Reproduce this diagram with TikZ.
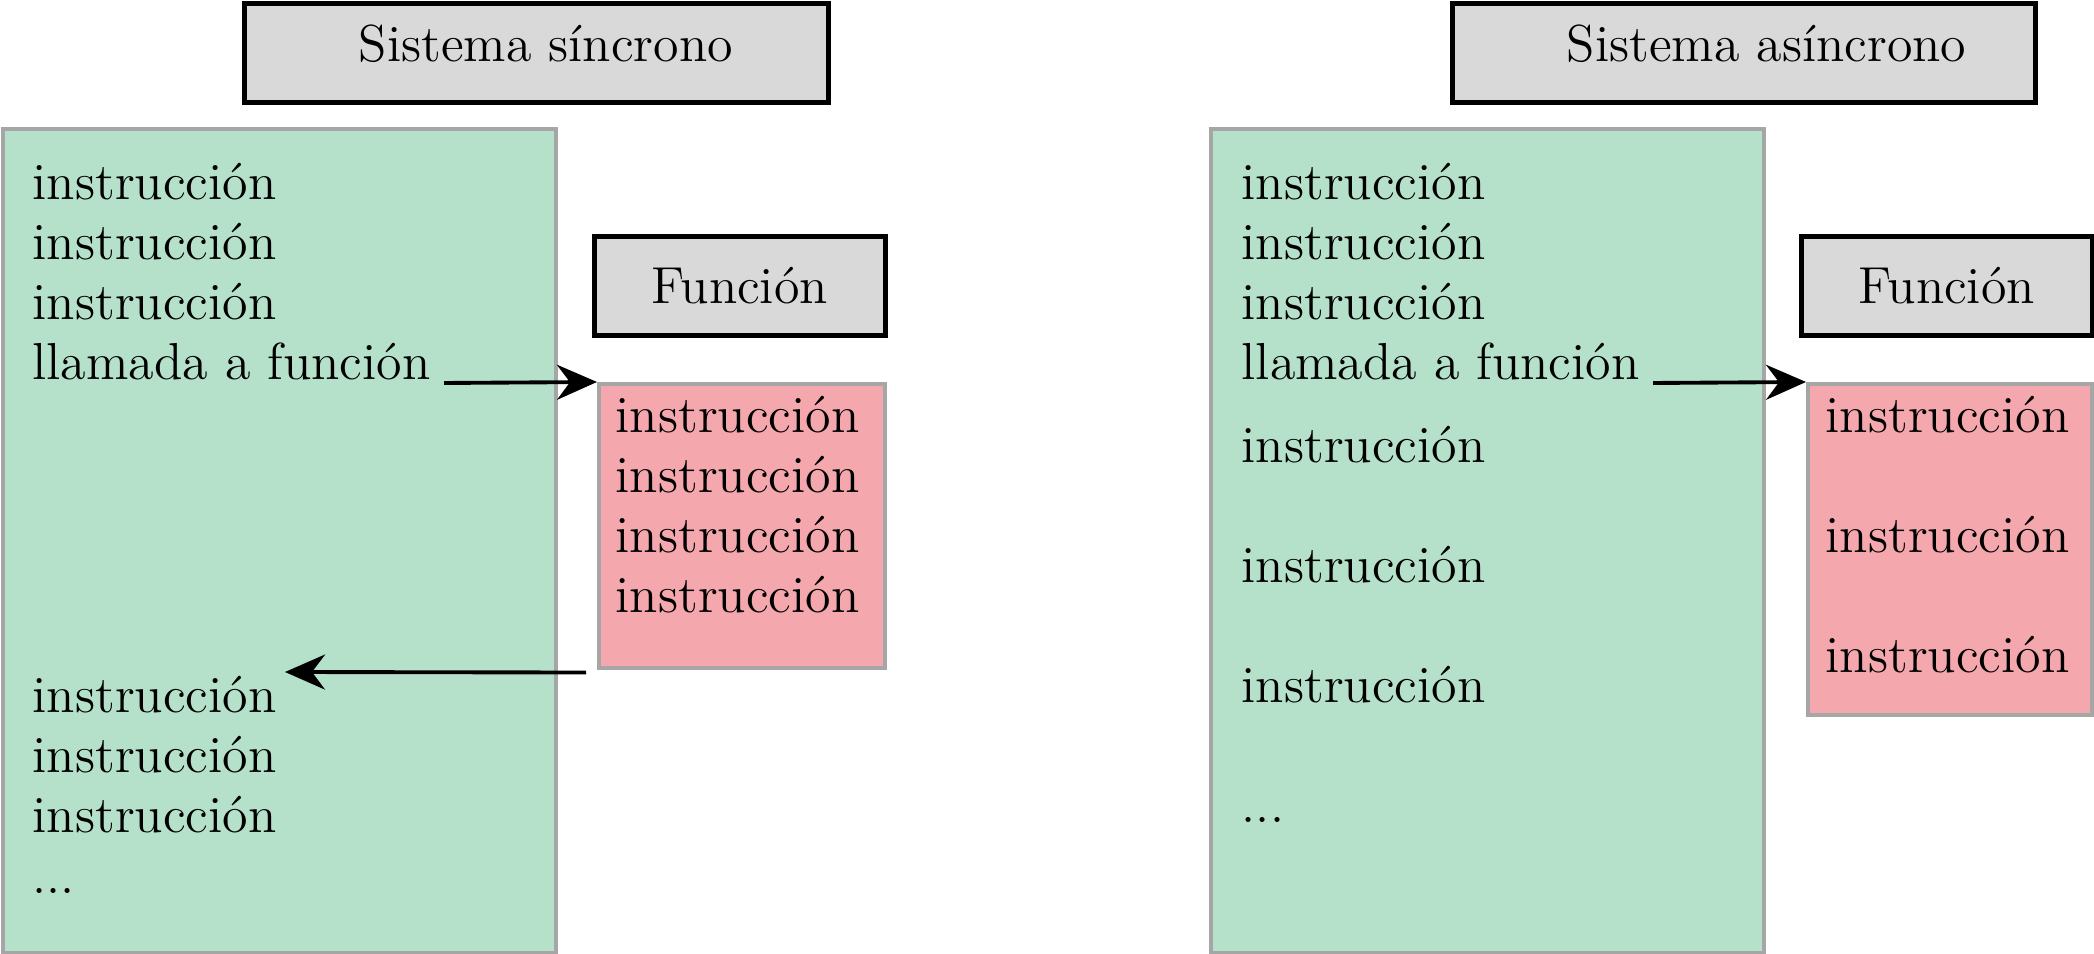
\documentclass[tikz,border=0pt]{standalone}
\usetikzlibrary{arrows.meta}

\definecolor{verdecodigo}{RGB}{181,225,203}
\definecolor{rosafuncion}{RGB}{244,168,174}
\definecolor{gristitulo}{RGB}{217,217,217}
\definecolor{grisborde}{RGB}{166,166,166}

\begin{document}
\begin{tikzpicture}[
  x=1cm,
  y=1cm,
  line join=miter,
  every node/.style={font=\fontsize{14.8}{17}\selectfont},
  cabecera/.style={draw=black, fill=gristitulo, line width=1.3pt, inner sep=0pt, anchor=north west},
  bloque/.style={draw=grisborde, line width=1pt, inner sep=0pt, anchor=north west},
  linea/.style={anchor=base west, inner sep=0pt},
  llamada flecha/.style={-{Stealth[length=0.40cm, width=0.35cm]}, line width=1.1pt}
]
  \useasboundingbox (0,0) rectangle (20.94,-9.54);

  % Left half: the synchronous system waits for the function to return.
  \node[cabecera, minimum width=5.84cm, minimum height=0.99cm] (tituloS) at (2.42,-0.01) {};
  \node[linea] (tituloStexto) at (3.58,-0.62) {Sistema síncrono};

  \node[bloque, fill=verdecodigo, minimum width=5.53cm, minimum height=8.24cm] (programaS) at (0.01,-1.27) {};
  \foreach \y [count=\i] in {2.00,2.60,3.20} {
    \node[linea] (instS\i) at (0.32,-\y) {instrucción};
  }
  \node[linea] (llamadaS) at (0.32,-3.80) {llamada a función};
  \foreach \y [count=\i] in {7.13,7.73,8.33} {
    \node[linea] (restoS\i) at (0.32,-\y) {instrucción};
  }
  \node[linea] (puntosS) at (0.32,-8.93) {...};

  \node[cabecera, minimum width=2.91cm, minimum height=0.99cm] (funcionS) at (5.92,-2.34) {Función};
  \node[bloque, fill=rosafuncion, minimum width=2.86cm, minimum height=2.84cm] (cuerpoS) at (5.97,-3.82) {};
  \foreach \y [count=\i] in {4.33,4.93,5.53,6.13} {
    \node[linea] (instF\i) at (6.15,-\y) {instrucción};
  }

  \coordinate (salidaS) at ([shift={(0.13,-0.03)}]llamadaS.base east);
  \coordinate (retornoS) at ([shift={(-0.11,-0.03)}]cuerpoS.south west);
  \coordinate (vueltaS) at (2.85,-6.72);
  \draw[llamada flecha] (salidaS) -- (cuerpoS.north west);
  \draw[llamada flecha] (retornoS) -- (vueltaS);

  % Right half: the asynchronous system carries on after the call.
  \node[cabecera, minimum width=5.83cm, minimum height=0.99cm] (tituloA) at (14.50,-0.01) {};
  \node[linea] (tituloAtexto) at (15.66,-0.62) {Sistema asíncrono};

  \node[bloque, fill=verdecodigo, minimum width=5.53cm, minimum height=8.24cm] (programaA) at (12.09,-1.27) {};
  \foreach \y [count=\i] in {2.00,2.60,3.20} {
    \node[linea] (instA\i) at (12.41,-\y) {instrucción};
  }
  \node[linea] (llamadaA) at (12.41,-3.80) {llamada a función};
  \foreach \y [count=\i] in {4.63,5.83,7.03} {
    \node[linea] (restoA\i) at (12.41,-\y) {instrucción};
  }
  \node[linea] (puntosA) at (12.41,-8.23) {...};

  \node[cabecera, minimum width=2.91cm, minimum height=0.99cm] (funcionA) at (17.99,-2.34) {Función};
  \node[bloque, fill=rosafuncion, minimum width=2.84cm, minimum height=3.31cm] (cuerpoA) at (18.06,-3.82) {};
  \foreach \y [count=\i] in {4.33,5.53,6.73} {
    \node[linea] (instG\i) at (18.25,-\y) {instrucción};
  }

  \coordinate (salidaA) at ([shift={(0.13,-0.03)}]llamadaA.base east);
  \draw[llamada flecha] (salidaA) -- (cuerpoA.north west);
\end{tikzpicture}
\end{document}
